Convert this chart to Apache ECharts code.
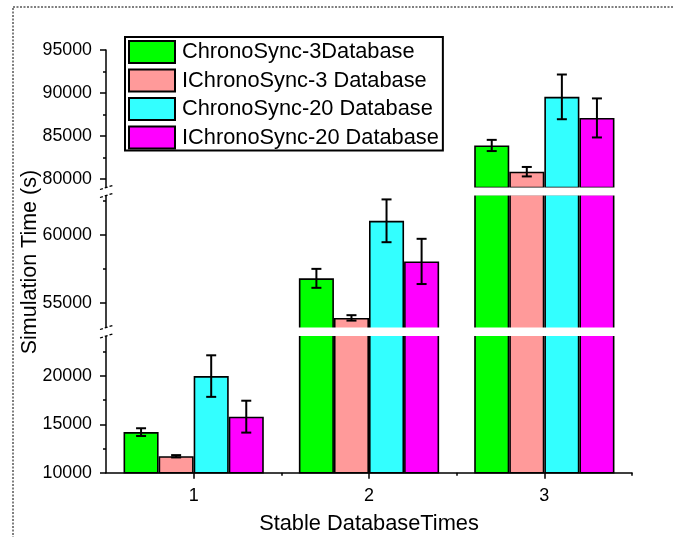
<!DOCTYPE html>
<html><head><meta charset="utf-8">
<script src="https://cdn.jsdelivr.net/npm/echarts@6/dist/echarts.min.js"></script>
<style>html,body{margin:0;padding:0;background:#fff}#c{width:673px;height:537px}</style>
</head><body><div id="c"></div>
<script>
// ---- data ----
const categories = ['1', '2', '3'];
const seriesNames = ['ChronoSync-3Database', 'IChronoSync-3 Database', 'ChronoSync-20 Database', 'IChronoSync-20 Database'];
const chronoSync3 = [14200, 56800, 83900];
const chronoSync3Err = [400, 700, 650];
const iChronoSync3 = [11700, 53880, 80850];
const iChronoSync3Err = [120, 200, 550];
const chronoSync20 = [20000, 61050, 89550];
const chronoSync20Err = [2150, 1580, 2600];
const iChronoSync20 = [15800, 58050, 87100];
const iChronoSync20Err = [1650, 1670, 2270];
// broken y axis segments (top, middle, bottom)
const segRanges = [[79000, 95000], [53000, 63000], [10000, 24500]];
const segMajorTicks = [[80000, 85000, 90000, 95000], [55000, 60000], [10000, 15000, 20000]];
const segMinorTicks = [[82500, 87500, 92500], [57500, 62500], [12500, 17500, 22500]];
const xMinorTicks = [1.5, 2.5, 3.5];

const values = [chronoSync3, iChronoSync3, chronoSync20, iChronoSync20];
const errors = [chronoSync3Err, iChronoSync3Err, chronoSync20Err, iChronoSync20Err];
const colors = ['#00FF00', '#FF9A9A', '#33FFFF', '#FF00FF'];
const FONT = '"Liberation Sans", Arial, sans-serif';

// ---- layout ----
const GL = 106, GW = 526;
const grids = [{ top: 50, height: 137.6 }, { top: 194.4, height: 135.4 }, { top: 332.6, height: 140.1 }];
const gaps = [[187.5, 195.5], [327.5, 336]];

const chart = echarts.init(document.getElementById('c'), null, { renderer: 'canvas' });

const axisLineStyle = { color: '#000', width: 1.5 };
const xAxes = [], yAxes = [], series = [];
grids.forEach((g, gi) => {
  xAxes.push({
    type: 'category', gridIndex: gi, data: categories, show: gi === 2,
    axisLine: { show: true, lineStyle: axisLineStyle },
    axisTick: { show: true, alignWithLabel: true, length: 6, lineStyle: axisLineStyle },
    axisLabel: { margin: 14, fontSize: 18, color: '#000', fontFamily: FONT },
    splitLine: { show: false },
    name: gi === 2 ? 'Stable DatabaseTimes' : '', nameLocation: 'middle', nameGap: 40, nameMoveOverlap: false,
    nameTextStyle: { fontSize: 21.8, color: '#000', fontFamily: FONT }
  });
  yAxes.push({
    type: 'value', gridIndex: gi, min: segRanges[gi][0], max: segRanges[gi][1], position: 'left',
    axisLine: { show: true, lineStyle: axisLineStyle },
    axisTick: { show: true, inside: false, length: 6, lineStyle: axisLineStyle, customValues: segMajorTicks[gi] },
    axisLabel: { customValues: segMajorTicks[gi], margin: 14, fontSize: 17.8, color: '#000', fontFamily: FONT, formatter: v => String(v) },
    splitLine: { show: false },
    name: gi === 1 ? 'Simulation Time (s)' : '', nameLocation: 'middle', nameGap: 65, nameMoveOverlap: false,
    nameTextStyle: { fontSize: 21.5, color: '#000', fontFamily: FONT }
  });
  yAxes.push({
    type: 'value', gridIndex: gi, min: segRanges[gi][0], max: segRanges[gi][1], position: 'left', offset: 0,
    axisLine: { show: false },
    axisTick: { show: true, inside: false, length: 3, lineStyle: axisLineStyle, customValues: segMinorTicks[gi] },
    axisLabel: { show: false }, splitLine: { show: false }
  });
  values.forEach((vals, si) => {
    series.push({
      type: 'bar', name: seriesNames[si], xAxisIndex: gi, yAxisIndex: gi * 2,
      data: vals, barGap: '0%', barCategoryGap: '20%', clip: true,
      itemStyle: { color: colors[si], borderColor: '#000', borderWidth: 1.6 },
      emphasis: { disabled: true }, animation: false
    });
  });
  const errData = [];
  values.forEach((vals, si) => vals.forEach((v, ci) => errData.push([ci, v, errors[si][ci], si])));
  series.push({
    type: 'custom', xAxisIndex: gi, yAxisIndex: gi * 2, data: errData, z: 5, animation: false,
    encode: { x: 0, y: 1 },
    renderItem: (params, api) => {
      const ci = api.value(0), mean = api.value(1), err = api.value(2), k = api.value(3);
      const cs = params.coordSys;
      const c = api.coord([ci, mean]);
      if (c[1] < cs.y - 0.5 || c[1] > cs.y + cs.height + 0.5) return null;
      const bw = api.size([1, 0])[0] * 0.8 / 4;
      const x = c[0] + (k - 1.5) * bw;
      const hi = api.coord([ci, mean + err])[1];
      const lo = api.coord([ci, mean - err])[1];
      const st = { stroke: '#000', lineWidth: 2 };
      const cap = 5;
      return { type: 'group', children: [
        { type: 'line', shape: { x1: x, y1: hi, x2: x, y2: lo }, style: st },
        { type: 'line', shape: { x1: x - cap, y1: hi, x2: x + cap, y2: hi }, style: st },
        { type: 'line', shape: { x1: x - cap, y1: lo, x2: x + cap, y2: lo }, style: st }
      ]};
    }
  });
});
xAxes.push({
  type: 'value', gridIndex: 2, min: 0.5, max: 3.5, position: 'bottom', offset: 0,
  axisLine: { show: false },
  axisTick: { show: true, length: 3, lineStyle: axisLineStyle, customValues: xMinorTicks },
  axisLabel: { show: false }, splitLine: { show: false }
});

const graphic = [
  { type: 'rect', z: 100, silent: true, shape: { x: 13, y: 7, width: 700, height: 600 },
    style: { fill: 'none', stroke: '#000', lineWidth: 1, lineDash: [2, 1.5] } }
];
gaps.forEach(([y0, y1]) => {
  graphic.push({ type: 'rect', z: 100, silent: true, shape: { x: 100, y: y0, width: GW + 8, height: y1 - y0 }, style: { fill: '#fff' } });
  graphic.push({ type: 'line', z: 101, silent: true, shape: { x1: 100, y1: y0 + 2, x2: 114, y2: y0 - 2.5 }, style: { stroke: '#000', lineWidth: 1.3, lineDash: [3, 2] } });
  graphic.push({ type: 'line', z: 101, silent: true, shape: { x1: 100, y1: y1 + 2, x2: 114, y2: y1 - 2.5 }, style: { stroke: '#000', lineWidth: 1.3, lineDash: [3, 2] } });
});

chart.setOption({
  animation: false,
  backgroundColor: '#fff',
  grid: grids.map(g => ({ left: GL, width: GW, top: g.top, height: g.height, containLabel: false })),
  xAxis: xAxes,
  yAxis: yAxes,
  legend: {
    data: seriesNames, orient: 'vertical', left: 125, top: 37,
    itemWidth: 46, itemHeight: 22, itemGap: 4.5, padding: [3, 4, 1, 3],
    borderColor: '#000', borderWidth: 2, backgroundColor: '#fff', icon: 'rect',
    itemStyle: { borderColor: '#000', borderWidth: 2 },
    textStyle: { fontSize: 21.8, color: '#000', fontFamily: FONT, padding: [0, 0, 0, 2] }
  },
  series: series,
  graphic: graphic
});
</script></body></html>
